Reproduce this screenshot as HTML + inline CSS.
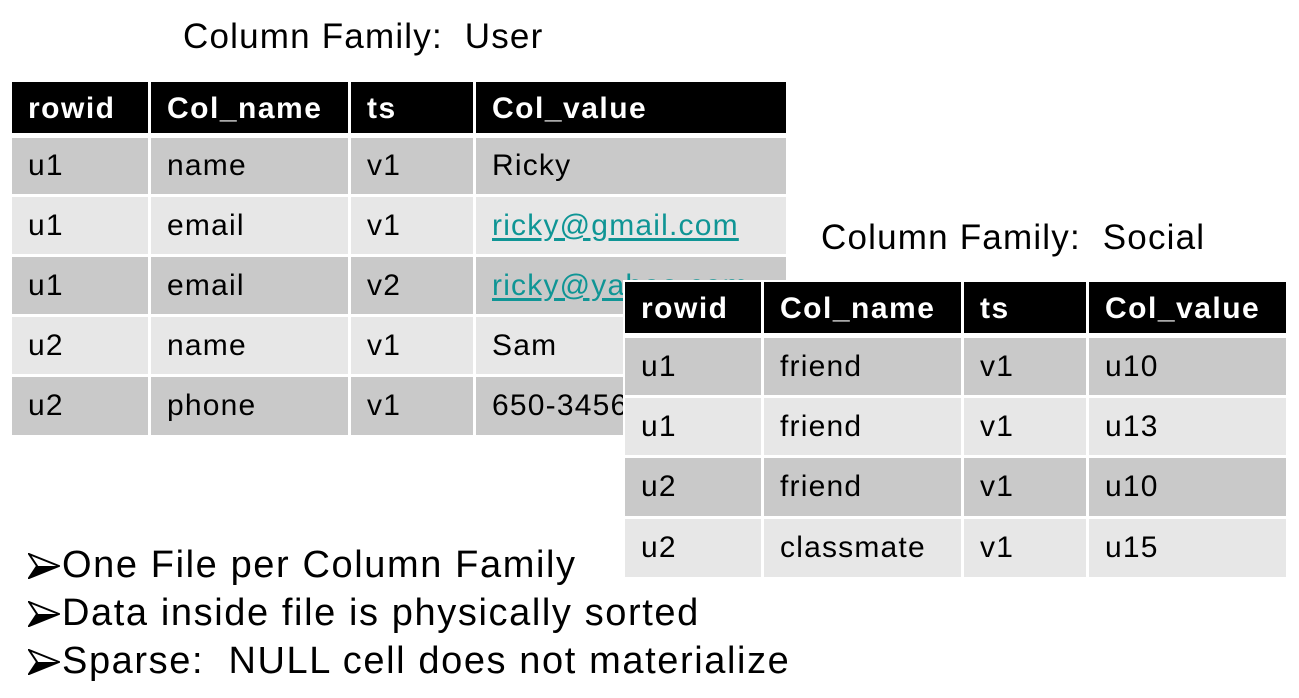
<!DOCTYPE html>
<html><head><meta charset="utf-8"><style>
body{margin:0;width:1299px;height:698px;background:#fff;position:relative;overflow:hidden;font-family:"Liberation Sans",Arial,sans-serif;}
.t{position:absolute;display:grid;column-gap:3px;background:#fff;}
.t div{display:flex;align-items:center;padding-left:16px;padding-top:0;font-size:30px;letter-spacing:1.2px;color:#000;box-sizing:border-box;white-space:nowrap;overflow:hidden;}
.t .h{background:#000;color:#fff;font-weight:bold;letter-spacing:1.5px;padding-top:3px;}
.t .d{background:#c9c9c9;}
.t .l{background:#e7e7e7;}
a{color:#0f9595;text-decoration:underline;text-underline-offset:3px;}
.title{position:absolute;font-size:35px;letter-spacing:1.2px;white-space:pre;}
.b{position:absolute;left:62px;font-size:38px;letter-spacing:1.6px;white-space:pre;}
.ar{position:absolute;left:28px;width:32px;height:26px;}
</style></head><body>
<div class="title" style="left:183px;top:17px;">Column Family:  User</div>
<div class="t" style="left:12px;top:82px;grid-template-columns:136px 197px 122px 310px;grid-template-rows:51px 58px 57px 57px 57px 58px;row-gap:3px;">
<div class="h" style="height:51px">rowid</div><div class="h">Col_name</div><div class="h">ts</div><div class="h">Col_value</div>
<div class="d" style="margin-top:2px">u1</div><div class="d" style="margin-top:2px">name</div><div class="d" style="margin-top:2px">v1</div><div class="d" style="margin-top:2px">Ricky</div>
<div class="l">u1</div><div class="l">email</div><div class="l">v1</div><div class="l"><a>ricky@gmail.com</a></div>
<div class="d">u1</div><div class="d">email</div><div class="d">v2</div><div class="d"><a>ricky@yahoo.com</a></div>
<div class="l">u2</div><div class="l">name</div><div class="l">v1</div><div class="l">Sam</div>
<div class="d">u2</div><div class="d">phone</div><div class="d">v1</div><div class="d">650-345678</div>
</div>
<div class="title" style="left:821px;top:218px;">Column Family:  Social</div>
<div class="t" style="left:623px;top:280px;padding:2px 0 0 2px;grid-template-columns:136px 197px 122px 197px;grid-template-rows:51px 59px 57px 58px 58px;row-gap:3px;">
<div class="h">rowid</div><div class="h">Col_name</div><div class="h">ts</div><div class="h">Col_value</div>
<div class="d" style="margin-top:2px">u1</div><div class="d" style="margin-top:2px">friend</div><div class="d" style="margin-top:2px">v1</div><div class="d" style="margin-top:2px">u10</div>
<div class="l">u1</div><div class="l">friend</div><div class="l">v1</div><div class="l">u13</div>
<div class="d">u2</div><div class="d">friend</div><div class="d">v1</div><div class="d">u10</div>
<div class="l">u2</div><div class="l">classmate</div><div class="l">v1</div><div class="l">u15</div>
</div>
<svg class="ar" style="top:553px" viewBox="0 0 32 26"><path d="M1 1 L31 13 L1 25 L9 13 Z" fill="#fff" stroke="#000" stroke-width="2"/><path d="M9 13 L31 13 L1 25 Z" fill="#000"/></svg>
<svg class="ar" style="top:601px" viewBox="0 0 32 26"><path d="M1 1 L31 13 L1 25 L9 13 Z" fill="#fff" stroke="#000" stroke-width="2"/><path d="M9 13 L31 13 L1 25 Z" fill="#000"/></svg>
<svg class="ar" style="top:649px" viewBox="0 0 32 26"><path d="M1 1 L31 13 L1 25 L9 13 Z" fill="#fff" stroke="#000" stroke-width="2"/><path d="M9 13 L31 13 L1 25 Z" fill="#000"/></svg>
<div class="b" style="top:544px;">One File per Column Family</div>
<div class="b" style="top:592px;">Data inside file is physically sorted</div>
<div class="b" style="top:640px;">Sparse:  NULL cell does not materialize</div>
</body></html>
